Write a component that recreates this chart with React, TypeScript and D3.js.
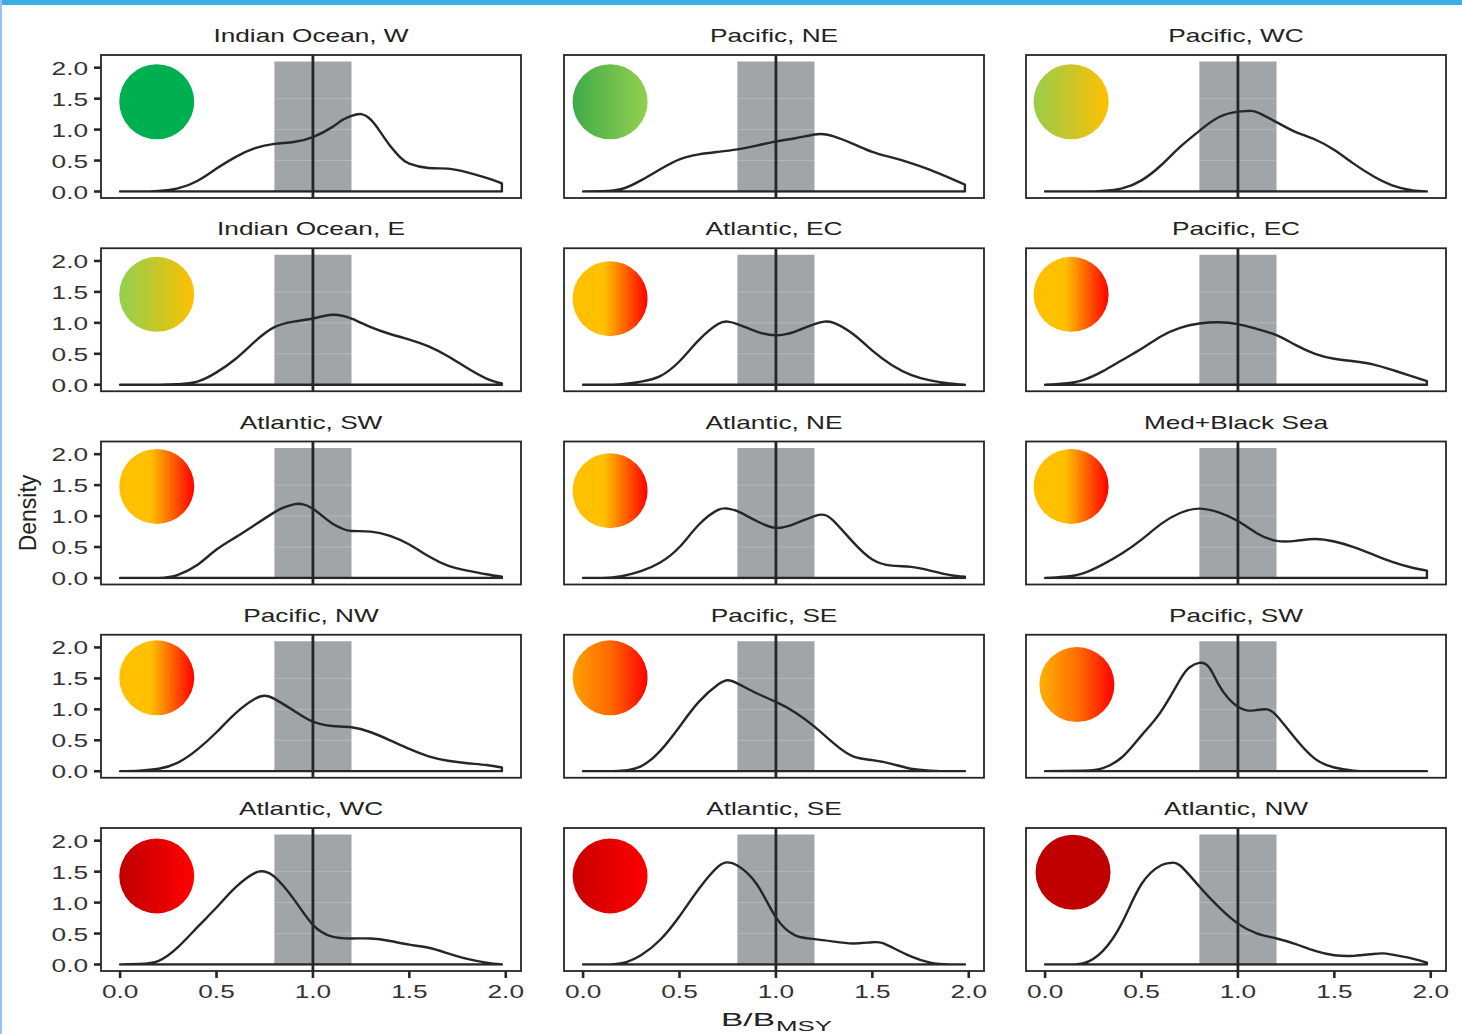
import React from "react";
import * as d3 from "d3";

// ---------- data ----------
const regionNames = [
  "Indian Ocean, W", "Pacific, NE", "Pacific, WC",
  "Indian Ocean, E", "Atlantic, EC", "Pacific, EC",
  "Atlantic, SW", "Atlantic, NE", "Med+Black Sea",
  "Pacific, NW", "Pacific, SE", "Pacific, SW",
  "Atlantic, WC", "Atlantic, SE", "Atlantic, NW",
];

type Pt = [number, number];

const indianOceanW: Pt[] = [[0,0],[0.1,0],[0.2,0.01],[0.3,0.05],[0.4,0.17],[0.5,0.37],[0.6,0.56],[0.7,0.7],[0.8,0.77],[0.9,0.8],[1.0,0.88],[1.1,1.04],[1.15,1.15],[1.2,1.22],[1.25,1.25],[1.3,1.16],[1.35,0.96],[1.4,0.74],[1.45,0.56],[1.5,0.45],[1.6,0.38],[1.7,0.37],[1.8,0.31],[1.9,0.22],[1.98,0.13]];
const pacificNE: Pt[] = [[0,0],[0.1,0.005],[0.2,0.04],[0.3,0.18],[0.4,0.36],[0.5,0.52],[0.6,0.6],[0.7,0.64],[0.8,0.68],[0.9,0.74],[1.0,0.81],[1.1,0.86],[1.2,0.92],[1.25,0.925],[1.3,0.89],[1.4,0.77],[1.5,0.64],[1.6,0.55],[1.7,0.46],[1.8,0.35],[1.9,0.22],[1.98,0.11]];
const pacificWC: Pt[] = [[0,0],[0.2,0],[0.3,0.01],[0.4,0.05],[0.5,0.18],[0.6,0.42],[0.7,0.72],[0.8,0.98],[0.9,1.2],[1.0,1.29],[1.05,1.3],[1.1,1.28],[1.2,1.12],[1.3,0.96],[1.4,0.84],[1.5,0.67],[1.6,0.45],[1.7,0.25],[1.8,0.1],[1.9,0.02],[1.98,0]];
const indianOceanE: Pt[] = [[0,0],[0.2,0],[0.3,0.01],[0.4,0.05],[0.5,0.2],[0.6,0.42],[0.7,0.7],[0.8,0.93],[0.9,1.02],[1.0,1.07],[1.1,1.13],[1.2,1.07],[1.3,0.93],[1.4,0.82],[1.5,0.73],[1.6,0.62],[1.7,0.46],[1.8,0.27],[1.9,0.1],[1.98,0.02]];
const atlanticEC: Pt[] = [[0,0],[0.1,0],[0.2,0.01],[0.3,0.05],[0.4,0.14],[0.5,0.38],[0.6,0.72],[0.7,0.98],[0.75,1.02],[0.8,0.98],[0.9,0.86],[1.0,0.8],[1.1,0.86],[1.2,0.98],[1.25,1.02],[1.3,1.0],[1.4,0.82],[1.5,0.55],[1.6,0.32],[1.7,0.16],[1.8,0.07],[1.9,0.02],[1.98,0]];
const pacificEC: Pt[] = [[0,0],[0.1,0.02],[0.2,0.08],[0.3,0.22],[0.4,0.4],[0.5,0.58],[0.6,0.78],[0.7,0.92],[0.8,0.99],[0.9,1.01],[1.0,0.98],[1.1,0.9],[1.2,0.8],[1.3,0.64],[1.4,0.5],[1.5,0.42],[1.6,0.38],[1.7,0.33],[1.8,0.24],[1.9,0.14],[1.98,0.06]];
const atlanticSW: Pt[] = [[0,0],[0.2,0],[0.3,0.05],[0.4,0.21],[0.5,0.46],[0.6,0.66],[0.7,0.86],[0.8,1.06],[0.85,1.14],[0.9,1.19],[0.95,1.19],[1.0,1.12],[1.05,1.0],[1.1,0.88],[1.15,0.8],[1.2,0.76],[1.3,0.75],[1.4,0.68],[1.5,0.54],[1.6,0.35],[1.7,0.2],[1.8,0.12],[1.9,0.06],[1.98,0.02]];
const atlanticNE: Pt[] = [[0,0],[0.1,0],[0.2,0.03],[0.3,0.11],[0.4,0.25],[0.5,0.5],[0.6,0.86],[0.7,1.1],[0.75,1.12],[0.8,1.08],[0.9,0.92],[1.0,0.81],[1.1,0.88],[1.2,1.0],[1.25,1.02],[1.3,0.92],[1.4,0.58],[1.5,0.3],[1.6,0.2],[1.7,0.18],[1.8,0.12],[1.9,0.05],[1.98,0.02]];
const medBlackSea: Pt[] = [[0,0],[0.1,0.02],[0.2,0.08],[0.3,0.22],[0.4,0.4],[0.5,0.62],[0.6,0.87],[0.7,1.05],[0.8,1.12],[0.9,1.06],[1.0,0.92],[1.1,0.72],[1.2,0.6],[1.3,0.6],[1.4,0.63],[1.5,0.59],[1.6,0.5],[1.7,0.38],[1.8,0.26],[1.9,0.17],[1.98,0.12]];
const pacificNW: Pt[] = [[0,0],[0.1,0.01],[0.2,0.04],[0.3,0.14],[0.4,0.35],[0.5,0.63],[0.6,0.94],[0.7,1.17],[0.75,1.22],[0.8,1.17],[0.9,0.98],[1.0,0.8],[1.1,0.73],[1.2,0.71],[1.3,0.63],[1.4,0.5],[1.5,0.36],[1.6,0.24],[1.7,0.17],[1.8,0.13],[1.9,0.1],[1.98,0.06]];
const pacificSE: Pt[] = [[0,0],[0.1,0],[0.2,0.01],[0.3,0.08],[0.4,0.33],[0.5,0.72],[0.6,1.12],[0.7,1.4],[0.75,1.47],[0.8,1.42],[0.9,1.26],[1.0,1.12],[1.1,0.95],[1.2,0.72],[1.3,0.45],[1.4,0.24],[1.5,0.18],[1.6,0.12],[1.7,0.04],[1.8,0.01],[1.9,0],[1.98,0]];
const pacificSW: Pt[] = [[0,0],[0.2,0.01],[0.3,0.05],[0.4,0.23],[0.5,0.58],[0.6,0.96],[0.7,1.48],[0.75,1.68],[0.8,1.75],[0.85,1.68],[0.9,1.4],[0.95,1.18],[1.0,1.04],[1.05,0.98],[1.1,0.99],[1.15,1.0],[1.2,0.9],[1.3,0.52],[1.4,0.2],[1.5,0.06],[1.6,0.01],[1.7,0],[1.98,0]];
const atlanticWC: Pt[] = [[0,0],[0.1,0.01],[0.2,0.06],[0.3,0.28],[0.4,0.6],[0.5,0.92],[0.6,1.25],[0.7,1.48],[0.75,1.5],[0.8,1.42],[0.9,1.06],[1.0,0.64],[1.1,0.45],[1.2,0.42],[1.3,0.42],[1.4,0.38],[1.5,0.32],[1.6,0.27],[1.7,0.18],[1.8,0.09],[1.9,0.03],[1.98,0]];
const atlanticSE: Pt[] = [[0,0],[0.1,0],[0.2,0.02],[0.3,0.15],[0.4,0.4],[0.5,0.78],[0.6,1.22],[0.7,1.58],[0.75,1.65],[0.8,1.6],[0.9,1.3],[1.0,0.76],[1.1,0.47],[1.2,0.41],[1.3,0.37],[1.4,0.34],[1.5,0.36],[1.55,0.35],[1.6,0.28],[1.7,0.13],[1.8,0.03],[1.9,0],[1.98,0]];
const atlanticNW: Pt[] = [[0,0],[0.1,0],[0.2,0.02],[0.3,0.22],[0.4,0.68],[0.5,1.3],[0.6,1.6],[0.65,1.64],[0.7,1.6],[0.8,1.26],[0.9,0.93],[1.0,0.66],[1.1,0.5],[1.2,0.42],[1.3,0.33],[1.4,0.22],[1.5,0.15],[1.6,0.14],[1.7,0.17],[1.75,0.18],[1.8,0.16],[1.9,0.1],[1.98,0.03]];

const densities: Pt[][] = [
  indianOceanW, pacificNE, pacificWC,
  indianOceanE, atlanticEC, pacificEC,
  atlanticSW, atlanticNE, medBlackSea,
  pacificNW, pacificSE, pacificSW,
  atlanticWC, atlanticSE, atlanticNW,
];

// status circle gradient (left colour, colour at mid stop, right colour) and mid stop offset
const circleLeft = ["#00B050","#3FAA47","#9ACD4A","#92D050","#FFC000","#FFC000","#FFC000","#FFC000","#FFC000","#FFC000","#FFA000","#FFB000","#C00000","#C80000","#C00000"];
const circleMid  = ["#00B050","#6ABE4C","#C9C628","#C4C828","#FFC000","#FFC000","#FFC000","#FFC000","#FFC000","#FFC000","#FF6A00","#FF7000","#E00000","#E40000","#C00000"];
const circleRight= ["#00B050","#92D050","#FFC000","#FFC000","#FF0000","#FF0000","#FF0000","#FF0000","#FF0000","#FF0000","#FF0000","#FF0000","#FF0000","#FF0000","#C00000"];
const circleMidOffset = [0.5,0.5,0.5,0.5,0.42,0.42,0.42,0.42,0.42,0.42,0.5,0.5,0.5,0.5,0.5];
// circle centres in data units
const circleX = [0.19,0.14,0.135,0.19,0.14,0.135,0.19,0.14,0.135,0.19,0.14,0.165,0.19,0.14,0.145];
const circleY = [1.45,1.45,1.45,1.46,1.39,1.46,1.48,1.41,1.48,1.51,1.51,1.40,1.43,1.43,1.49];

const xTicks = [0, 0.5, 1, 1.5, 2];
const yTicks = [0, 0.5, 1, 1.5, 2];
const targetBand = [0.8, 1.2];
const targetLine = 1.0;
const bandTop = 2.1;

// ---------- layout ----------
const W = 1462, H = 1034;
const colLefts = [101, 564, 1026];
const rowTop0 = 55, rowStep = 193.25;
const PW = 420, PH = 143;
const SX = 1.38; // horizontal stretch of the text
const FONT = "'Liberation Sans', Arial, Helvetica, sans-serif";

const x = d3.scaleLinear().domain([-0.099, 2.079]).range([0, PW]);
const y = d3.scaleLinear().domain([-0.105, 2.205]).range([PH, 0]);
const line = d3.line<Pt>().x(d => x(d[0])).y(d => y(d[1])).curve(d3.curveNatural);

function WText(props: { x: number; y: number; size: number; anchor?: string; fill?: string; children: any }) {
  return (
    <text
      transform={`translate(${props.x},${props.y}) scale(${SX},1)`}
      fontSize={props.size}
      fontFamily={FONT}
      textAnchor={props.anchor || "middle"}
      fill={props.fill || "#222"}
    >
      {props.children}
    </text>
  );
}

function Panel({ i }: { i: number }) {
  const col = i % 3, row = Math.floor(i / 3);
  const left = colLefts[col], top = rowTop0 + row * rowStep;
  const pts = densities[i];
  const last = pts[pts.length - 1];
  const d = line(pts) + `L${x(last[0])},${y(0)}L${x(pts[0][0])},${y(0)}Z`;
  const r = 37.5;
  return (
    <g transform={`translate(${left},${top})`}>
      <defs>
        <clipPath id={`clipBase${i}`}>
          <rect x={-5} y={-5} width={PW + 10} height={y(0) + 1.2 + 5} />
        </clipPath>
      </defs>
      <rect x={x(targetBand[0])} y={y(bandTop)} width={x(targetBand[1]) - x(targetBand[0])} height={y(0) - y(bandTop)} fill="#A2A5A8" />
      {[0.5, 1, 1.5].map(t => (
        <line key={t} x1={x(targetBand[0])} x2={x(targetBand[1])} y1={y(t)} y2={y(t)} stroke="#ffffff" strokeOpacity={0.22} strokeWidth={1} />
      ))}
      <circle cx={x(circleX[i])} cy={y(circleY[i])} r={r} fill={`url(#grad${i})`} />
      <path d={d} fill="none" stroke="#262626" strokeWidth={2.4} strokeLinejoin="round" clipPath={`url(#clipBase${i})`} />
      <line x1={x(targetLine)} x2={x(targetLine)} y1={0} y2={PH} stroke="#262626" strokeWidth={2.8} />
      <rect x={0} y={0} width={PW} height={PH} fill="none" stroke="#262626" strokeWidth={1.8} />
      <WText x={PW / 2} y={-13} size={19}>{regionNames[i]}</WText>
      {col === 0 && yTicks.map(t => (
        <g key={t}>
          <line x1={-7} x2={0} y1={y(t)} y2={y(t)} stroke="#262626" strokeWidth={2.6} />
          <WText x={-13} y={y(t) + 7} size={19} anchor="end" fill="#333">{t.toFixed(1)}</WText>
        </g>
      ))}
      {row === 4 && xTicks.map(t => (
        <g key={t}>
          <line x1={x(t)} x2={x(t)} y1={PH} y2={PH + 7} stroke="#262626" strokeWidth={2.6} />
          <WText x={x(t)} y={PH + 27} size={19} fill="#333">{t.toFixed(1)}</WText>
        </g>
      ))}
    </g>
  );
}

export default function App() {
  return (
    <svg width={W} height={H} style={{ position: "absolute", left: 0, top: 0, background: "#fff" }}>
      <defs>
        {regionNames.map((_, i) => (
          <linearGradient key={i} id={`grad${i}`} x1="0" x2="1" y1="0" y2="0">
            <stop offset="0" stopColor={circleLeft[i]} />
            <stop offset={circleMidOffset[i]} stopColor={circleMid[i]} />
            <stop offset="1" stopColor={circleRight[i]} />
          </linearGradient>
        ))}
      </defs>
      <rect x={0} y={0} width={W} height={H} fill="#fff" />
      <rect x={0} y={0} width={W} height={5} fill="#3AAEE6" />
      <rect x={0} y={0} width={2} height={H} fill="#9CC3EE" />
      {regionNames.map((_, i) => <Panel key={i} i={i} />)}
      <text transform="translate(36,513) rotate(-90)" fontSize={23} fontFamily={FONT} textAnchor="middle" fill="#222">Density</text>
      <text x={721} y={1026} fontSize={19} fontFamily={FONT} fill="#222" textLength={54} lengthAdjust="spacingAndGlyphs">B/B</text>
      <text x={776} y={1031} fontSize={15} fontFamily={FONT} fill="#222" textLength={56} lengthAdjust="spacingAndGlyphs">MSY</text>
    </svg>
  );
}
